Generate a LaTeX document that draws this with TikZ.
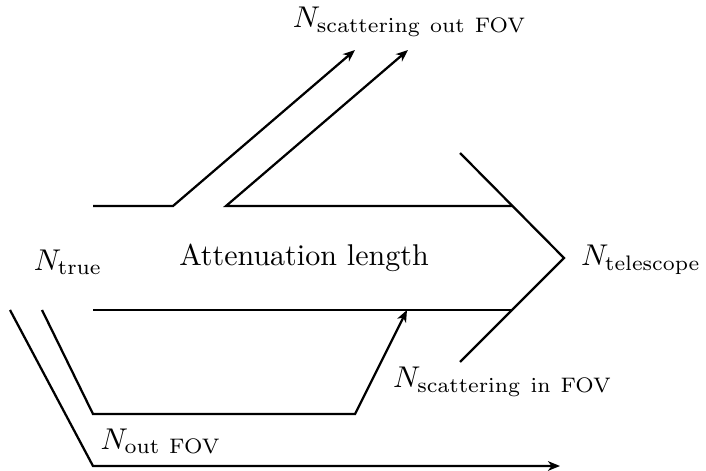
\documentclass[tikz,border=0pt]{standalone}
\usetikzlibrary{arrows.meta}
\begin{document}
\begin{tikzpicture}[x=0.333pt,y=-0.333pt,
  ln/.style={line width=0.75pt},
  arr/.style={ln,-{Stealth[length=4pt,width=3.2pt,inset=1.2pt]}},
  lbl/.style={inner sep=0pt}]
\useasboundingbox (0,0) rectangle (706,471);
% coordinates
\coordinate (a1) at (93,206);
\coordinate (a2) at (173,206);
\coordinate (a3) at (355,50);
\coordinate (b1) at (226,206);
\coordinate (b2) at (408,50);
\coordinate (b3) at (512,206);
\coordinate (t1) at (460,153);
\coordinate (t2) at (564,258);
\coordinate (t3) at (460,362);
\coordinate (c1) at (93,310);
\coordinate (c2) at (512,310);
\coordinate (d1) at (42,310);
\coordinate (d2) at (93,414);
\coordinate (d3) at (355,414);
\coordinate (d4) at (407,310);
\coordinate (e1) at (10,310);
\coordinate (e2) at (93,466);
\coordinate (e3) at (560,466);
% labels
\node[lbl] (ntrue) at (68,262) {$N_{\mathrm{true}}$};
\node[lbl] (att) at (304,258) {Attenuation length};
\node[lbl] (ntel) at (641,260) {$N_{\mathrm{telescope}}$};
\node[lbl] (nsout) at (410,22) {$N_{\mathrm{scattering\ out\ FOV}}$};
\node[lbl] (nsin) at (503,382) {$N_{\mathrm{scattering\ in\ FOV}}$};
\node[lbl] (nout) at (161,441) {$N_{\mathrm{out\ FOV}}$};
% lines
\draw[arr] (a1) -- (a2) -- (a3);
\draw[arr] (b3) -- (b1) -- (b2);
\draw[ln] (t1) -- (t2) -- (t3);
\draw[ln] (c1) -- (c2);
\draw[arr] (d1) -- (d2) -- (d3) -- (d4);
\draw[arr] (e1) -- (e2) -- (e3);
\end{tikzpicture}
\end{document}
